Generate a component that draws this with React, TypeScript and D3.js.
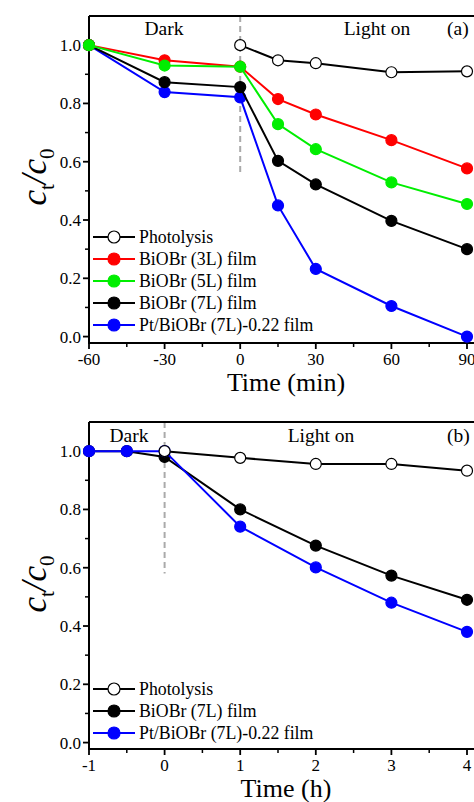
import React from "react";
import * as d3 from "d3";

// ---------- Data: panel (a) ----------
const timeMinA = [-60, -30, 0, 15, 30, 60, 90];
const photoTimeA = [0, 15, 30, 60, 90];
const photolysisA = [1.0, 0.948, 0.938, 0.907, 0.91];
const biobr3L = [1.0, 0.948, 0.926, 0.815, 0.762, 0.674, 0.577];
const biobr5L = [1.0, 0.93, 0.926, 0.729, 0.643, 0.529, 0.455];
const biobr7LA = [1.0, 0.873, 0.856, 0.603, 0.522, 0.397, 0.3];
const ptBiobrA = [1.0, 0.839, 0.821, 0.45, 0.232, 0.105, 0.0];
const xTicksA = [-60, -30, 0, 30, 60, 90];
const xMinorA = [-45, -15, 15, 45, 75];

// ---------- Data: panel (b) ----------
const timeHB = [-1, -0.5, 0, 1, 2, 3, 4];
const photoTimeB = [0, 1, 2, 3, 4];
const photolysisB = [1.0, 0.977, 0.956, 0.956, 0.933];
const biobr7LB = [1.0, 1.0, 0.98, 0.8, 0.676, 0.573, 0.49];
const ptBiobrB = [1.0, 1.0, 1.0, 0.741, 0.601, 0.48, 0.38];
const xTicksB = [-1, 0, 1, 2, 3, 4];
const xMinorB = [-0.5, 0.5, 1.5, 2.5, 3.5];

const yTicks = [0, 0.2, 0.4, 0.6, 0.8, 1.0];
const yMinor = [0.1, 0.3, 0.5, 0.7, 0.9];

type Series = { name: string; xs: number[]; ys: number[]; color: string; open?: boolean };

const FONT = "'Liberation Serif', 'Times New Roman', serif";

function Panel(props: {
  top: number;
  bottom: number;
  xDomain: [number, number];
  xTicks: number[];
  xMinor: number[];
  series: Series[];
  legendOrder: Series[];
  legendY: number;
  xLabel: string;
  tag: string;
  darkX: number;
  lightX: number;
  labelY: number;
  dashEnd: number;
  yLabelCenter: number;
}) {
  const span = props.xTicks[props.xTicks.length - 1] - props.xTicks[0];
  const x = d3
    .scaleLinear()
    .domain(props.xDomain)
    .range([89, 89 + (378 * (props.xDomain[1] - props.xDomain[0])) / span]);
  const y = d3.scaleLinear().domain([-0.022, 1.1]).range([props.bottom, props.top]);
  const line = d3.line<[number, number]>().x((d) => x(d[0])).y((d) => y(d[1]));
  const x0 = x(props.xDomain[0]);
  const x1 = x(props.xDomain[1]);
  return (
    <g fontFamily={FONT}>
      {/* dashed line at t=0 */}
      <line x1={x(0)} x2={x(0)} y1={y(1.1)} y2={y(props.dashEnd)} stroke="#aaaaaa" strokeWidth={2} strokeDasharray="6,4" />
      {/* frame */}
      <line x1={x0} x2={x1} y1={y(1.1)} y2={y(1.1)} stroke="#000" strokeWidth={2} />
      <line x1={x0} x2={x1} y1={props.bottom} y2={props.bottom} stroke="#000" strokeWidth={2} />
      <line x1={x0} x2={x0} y1={props.top} y2={props.bottom + 1} stroke="#000" strokeWidth={2} />
      {/* x ticks */}
      {props.xTicks.map((t) => (
        <g key={"xt" + t}>
          <line x1={x(t)} x2={x(t)} y1={props.bottom} y2={props.bottom + 6} stroke="#000" strokeWidth={1.8} />
          <text x={x(t)} y={props.bottom + 22} fontSize={17} textAnchor="middle">{t}</text>
        </g>
      ))}
      {props.xMinor.map((t) => (
        <line key={"xm" + t} x1={x(t)} x2={x(t)} y1={props.bottom} y2={props.bottom + 4} stroke="#000" strokeWidth={1.5} />
      ))}
      {/* y ticks */}
      {yTicks.map((t) => (
        <g key={"yt" + t}>
          <line x1={x0 - 6} x2={x0} y1={y(t)} y2={y(t)} stroke="#000" strokeWidth={1.8} />
          <text x={x0 - 8} y={y(t) + 6} fontSize={17} textAnchor="end">{t.toFixed(1)}</text>
        </g>
      ))}
      {yMinor.map((t) => (
        <line key={"ym" + t} x1={x0 - 4} x2={x0} y1={y(t)} y2={y(t)} stroke="#000" strokeWidth={1.5} />
      ))}
      {/* axis labels */}
      <text x={286} y={props.bottom + 48} fontSize={26} textAnchor="middle">{props.xLabel}</text>
      <text transform={`translate(46,${props.yLabelCenter}) rotate(-90)`} fontSize={35} textAnchor="middle">
        <tspan fontStyle="italic">c</tspan>
        <tspan fontSize={21} dy={8}>t</tspan>
        <tspan fontStyle="italic" dy={-8}>/c</tspan>
        <tspan fontSize={21} dy={8}>0</tspan>
      </text>
      {/* annotations */}
      <text x={props.darkX} y={props.labelY} fontSize={19.5} textAnchor="middle">Dark</text>
      <text x={props.lightX} y={props.labelY} fontSize={19.5} textAnchor="middle">Light on</text>
      <text x={447} y={props.labelY} fontSize={19.5}>{props.tag}</text>
      {/* series */}
      {props.series.map((s) => {
        const pts: [number, number][] = s.xs.map((v, i) => [v, s.ys[i]]);
        return (
          <g key={s.name}>
            <path d={line(pts) || ""} fill="none" stroke={s.open ? "#000" : s.color} strokeWidth={2} />
            {pts.map((p, i) => (
              <circle key={i} cx={x(p[0])} cy={y(p[1])} r={5.5} fill={s.open ? "#fff" : s.color} stroke={s.open ? "#000" : s.color} strokeWidth={1.2} />
            ))}
          </g>
        );
      })}
      {/* legend */}
      {props.legendOrder.map((s, i) => {
        const ly = props.legendY + i * 22;
        return (
          <g key={"lg" + s.name}>
            <line x1={93} x2={135} y1={ly} y2={ly} stroke={s.open ? "#000" : s.color} strokeWidth={2} />
            <circle cx={114} cy={ly} r={6} fill={s.open ? "#fff" : s.color} stroke={s.open ? "#000" : s.color} strokeWidth={1.2} />
            <text x={139} y={ly + 6} fontSize={17.8}>{s.name}</text>
          </g>
        );
      })}
    </g>
  );
}

export default function App() {
  const photoA: Series = { name: "Photolysis", xs: photoTimeA, ys: photolysisA, color: "#000", open: true };
  const s3: Series = { name: "BiOBr (3L) film", xs: timeMinA, ys: biobr3L, color: "#ff0000" };
  const s5: Series = { name: "BiOBr (5L) film", xs: timeMinA, ys: biobr5L, color: "#00ee00" };
  const s7: Series = { name: "BiOBr (7L) film", xs: timeMinA, ys: biobr7LA, color: "#000000" };
  const sPt: Series = { name: "Pt/BiOBr (7L)-0.22 film", xs: timeMinA, ys: ptBiobrA, color: "#0000ff" };

  const photoB: Series = { name: "Photolysis", xs: photoTimeB, ys: photolysisB, color: "#000", open: true };
  const s7B: Series = { name: "BiOBr (7L) film", xs: timeHB, ys: biobr7LB, color: "#000000" };
  const sPtB: Series = { name: "Pt/BiOBr (7L)-0.22 film", xs: timeHB, ys: ptBiobrB, color: "#0000ff" };

  return (
    <svg width={474} height={802} style={{ position: "absolute", left: 0, top: 0, background: "#fff" }}>
      <rect width={474} height={802} fill="#fff" />
      <Panel
        top={16}
        bottom={343}
        xDomain={[-60, 95]}
        xTicks={xTicksA}
        xMinor={xMinorA}
        series={[sPt, s7, s3, s5, photoA]}
        legendOrder={[photoA, s3, s5, s7, sPt]}
        legendY={237}
        xLabel="Time (min)"
        tag="(a)"
        darkX={164}
        lightX={377}
        labelY={35}
        dashEnd={0.56}
        yLabelCenter={177}
      />
      <Panel
        top={422}
        bottom={749}
        xDomain={[-1, 4.2]}
        xTicks={xTicksB}
        xMinor={xMinorB}
        series={[s7B, sPtB, photoB]}
        legendOrder={[photoB, s7B, sPtB]}
        legendY={689}
        xLabel="Time (h)"
        tag="(b)"
        darkX={129}
        lightX={321}
        labelY={442}
        dashEnd={0.58}
        yLabelCenter={584}
      />
    </svg>
  );
}
